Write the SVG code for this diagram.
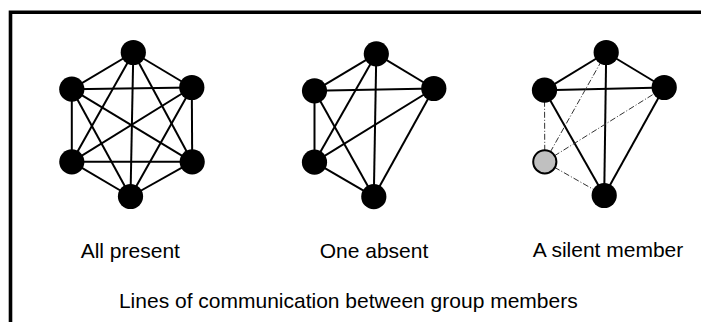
<svg xmlns="http://www.w3.org/2000/svg" width="701" height="322" viewBox="0 0 701 322">
<style>
.e{stroke:#000;stroke-width:2;fill:none}
.d{stroke:#333;stroke-width:1;fill:none;stroke-dasharray:6 2 1 2}
.n{fill:#000}
.g{fill:#c0c0c0;stroke:#000;stroke-width:2}
text{font-family:"Liberation Sans",Arial,sans-serif;font-size:21px;fill:#000;text-anchor:middle}
</style>
<rect width="701" height="322" fill="#fff"/>
<path d="M10.5 322 V12.2 H701" fill="none" stroke="#000" stroke-width="3.6"/>
<g id="connectors">
<!-- group 1: all present (K6) -->
<g id="c1">
<line class="e" x1="133.3" y1="52.5" x2="71.8" y2="89.2"/>
<line class="e" x1="133.3" y1="52.5" x2="191.8" y2="87.5"/>
<line class="e" x1="133.3" y1="52.5" x2="71.8" y2="161.8"/>
<line class="e" x1="133.3" y1="52.5" x2="192.2" y2="161.8"/>
<line class="e" x1="133.3" y1="52.5" x2="130.5" y2="196.5"/>
<line class="e" x1="71.8" y1="89.2" x2="191.8" y2="87.5"/>
<line class="e" x1="71.8" y1="89.2" x2="71.8" y2="161.8"/>
<line class="e" x1="71.8" y1="89.2" x2="192.2" y2="161.8"/>
<line class="e" x1="71.8" y1="89.2" x2="130.5" y2="196.5"/>
<line class="e" x1="191.8" y1="87.5" x2="71.8" y2="161.8"/>
<line class="e" x1="191.8" y1="87.5" x2="192.2" y2="161.8"/>
<line class="e" x1="191.8" y1="87.5" x2="130.5" y2="196.5"/>
<line class="e" x1="71.8" y1="161.8" x2="192.2" y2="161.8"/>
<line class="e" x1="71.8" y1="161.8" x2="130.5" y2="196.5"/>
<line class="e" x1="192.2" y1="161.8" x2="130.5" y2="196.5"/>
</g>
<!-- group 2: one absent (K5) -->
<g id="c2">
<line class="e" x1="376.3" y1="53.8" x2="314.5" y2="90.8"/>
<line class="e" x1="376.3" y1="53.8" x2="433.8" y2="88.5"/>
<line class="e" x1="376.3" y1="53.8" x2="314.5" y2="162.2"/>
<line class="e" x1="376.3" y1="53.8" x2="373.8" y2="196.7"/>
<line class="e" x1="314.5" y1="90.8" x2="433.8" y2="88.5"/>
<line class="e" x1="314.5" y1="90.8" x2="314.5" y2="162.2"/>
<line class="e" x1="314.5" y1="90.8" x2="373.8" y2="196.7"/>
<line class="e" x1="433.8" y1="88.5" x2="314.5" y2="162.2"/>
<line class="e" x1="433.8" y1="88.5" x2="373.8" y2="196.7"/>
<line class="e" x1="314.5" y1="162.2" x2="373.8" y2="196.7"/>
</g>
<!-- group 3: a silent member -->
<g id="c3">
<line class="e" x1="606.2" y1="52.5" x2="544.5" y2="90.2"/>
<line class="e" x1="606.2" y1="52.5" x2="664.2" y2="87.5"/>
<line class="e" x1="606.2" y1="52.5" x2="604.2" y2="195.5"/>
<line class="e" x1="544.5" y1="90.2" x2="664.2" y2="87.5"/>
<line class="e" x1="544.5" y1="90.2" x2="604.2" y2="195.5"/>
<line class="e" x1="664.2" y1="87.5" x2="604.2" y2="195.5"/>
<line class="d" x1="544.8" y1="161.8" x2="544.5" y2="90.2"/>
<line class="d" x1="544.8" y1="161.8" x2="606.2" y2="52.5"/>
<line class="d" x1="544.8" y1="161.8" x2="664.2" y2="87.5"/>
<line class="d" x1="544.8" y1="161.8" x2="604.2" y2="195.5"/>
</g>
</g>
<g id="all-present">
<g id="n1-top"><circle class="n" cx="133.3" cy="52.5" r="12.6"/></g>
<g id="n1-lu"><circle class="n" cx="71.8" cy="89.2" r="12.6"/></g>
<g id="n1-ru"><circle class="n" cx="191.8" cy="87.5" r="12.6"/></g>
<g id="n1-ll"><circle class="n" cx="71.8" cy="161.8" r="12.6"/></g>
<g id="n1-rl"><circle class="n" cx="192.2" cy="161.8" r="12.6"/></g>
<g id="n1-b"><circle class="n" cx="130.5" cy="196.5" r="12.6"/></g>
</g>
<g id="one-absent">
<g id="n2-top"><circle class="n" cx="376.3" cy="53.8" r="12.6"/></g>
<g id="n2-lu"><circle class="n" cx="314.5" cy="90.8" r="12.6"/></g>
<g id="n2-r"><circle class="n" cx="433.8" cy="88.5" r="12.6"/></g>
<g id="n2-ll"><circle class="n" cx="314.5" cy="162.2" r="12.6"/></g>
<g id="n2-b"><circle class="n" cx="373.8" cy="196.7" r="12.6"/></g>
</g>
<g id="silent-member">
<g id="n3-top"><circle class="n" cx="606.2" cy="52.5" r="12.6"/></g>
<g id="n3-lu"><circle class="n" cx="544.5" cy="90.2" r="12.6"/></g>
<g id="n3-r"><circle class="n" cx="664.2" cy="87.5" r="12.6"/></g>
<g id="n3-silent"><circle class="g" cx="544.8" cy="161.8" r="11.6"/></g>
<g id="n3-b"><circle class="n" cx="604.2" cy="195.5" r="12.6"/></g>
</g>
<g id="labels">
<text x="130.3" y="258">All present</text>
<text x="374" y="258">One absent</text>
<text x="608" y="257">A silent member</text>
<text x="348.3" y="308">Lines of communication between group members</text>
</g>
</svg>
